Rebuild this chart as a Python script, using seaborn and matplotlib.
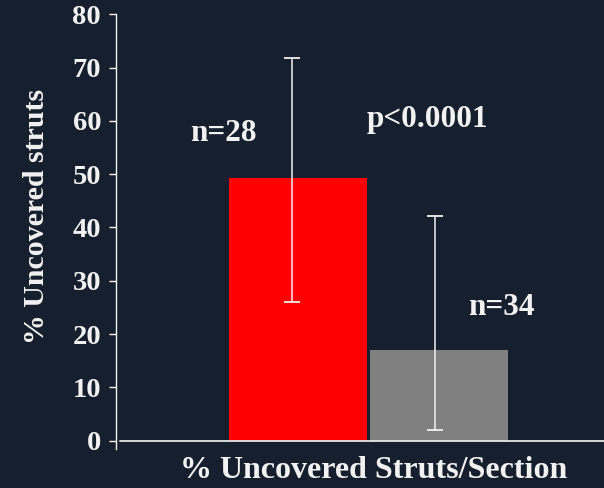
import matplotlib
matplotlib.use("Agg")
import matplotlib.pyplot as plt
import seaborn as sns
import pandas as pd

# ---- data ----
groups = ["Group A", "Group B"]
means = [49.3, 17.1]
err_low = [26.1, 2.0]
err_high = [71.8, 42.1]
n_labels = ["n=28", "n=34"]
p_label = "p<0.0001"
y_ticks = [0, 10, 20, 30, 40, 50, 60, 70, 80]
x_title = "% Uncovered Struts/Section"
y_title = "% Uncovered struts"

BG = "#161f2d"
FG = "#f2f2f2"
bar_colors = ["#ff0000", "#808080"]

sns.set_theme(style="white")
plt.rcParams["font.family"] = ["Liberation Serif", "DejaVu Serif"]
plt.rcParams["font.weight"] = "bold"

W, H = 604, 488
fig = plt.figure(figsize=(W / 100, H / 100), dpi=100, facecolor=BG)
# axes placement in pixels
ax_left, ax_right, ax_top, ax_bot = 116, 604, 14.3, 448.9
ax = fig.add_axes([ax_left / W, 1 - ax_bot / H, (ax_right - ax_left) / W, (ax_bot - ax_top) / H])
ax.set_facecolor(BG)

df = pd.DataFrame({"group": groups, "value": means})
sns.barplot(data=df, x="group", y="value", hue="group", palette=bar_colors,
            width=0.98, legend=False, ax=ax, saturation=1, errorbar=None,
            linewidth=0, edgecolor="none")

ax.set_xlim(-1.29, 2.17)
ax.set_ylim(-1.55, 80)

# error bars
shift = [-0.045, -0.03]
for i, (m, lo, hi) in enumerate(zip(means, err_low, err_high)):
    ax.errorbar(i + shift[i], m, yerr=[[m - lo], [hi - m]], fmt="none",
                ecolor=FG, elinewidth=1.1, capsize=6, capthick=1.3, zorder=5)

# axis styling
for s in ["top", "right", "bottom"]:
    ax.spines[s].set_visible(False)
ax.spines["left"].set_color(FG)
ax.spines["left"].set_linewidth(1.0)
ax.axhline(0, xmin=4 / (ax_right - ax_left), xmax=1, color="#e6e6e6", lw=1.3, zorder=4)

ax.set_yticks(y_ticks)
ax.set_yticklabels([str(t) for t in y_ticks], fontsize=20.5, fontweight="bold", color=FG)
ax.tick_params(axis="y", direction="out", length=5, width=1, color=FG, pad=5.8, left=True)
ax.set_xticks([])
ax.set_xlabel("")
ax.set_ylabel("")

# annotations
ax.text(-0.53, 57.7, n_labels[0], ha="center", va="center", fontsize=22.5, fontweight="bold", color=FG)
ax.text(0.92, 60.2, p_label, ha="center", va="center", fontsize=22.5, fontweight="bold", color=FG)
ax.text(1.44, 24.9, n_labels[1], ha="center", va="center", fontsize=22.5, fontweight="bold", color=FG)

fig.text(374 / W, 1 - 471 / H, x_title, ha="center", va="center", fontsize=23,
         fontweight="bold", color=FG)
fig.text(37 / W, 1 - 216 / H, y_title, ha="center", va="center", rotation=90,
         fontsize=21.5, fontweight="bold", color=FG)

fig.savefig("out.png", dpi=100, facecolor=BG)
